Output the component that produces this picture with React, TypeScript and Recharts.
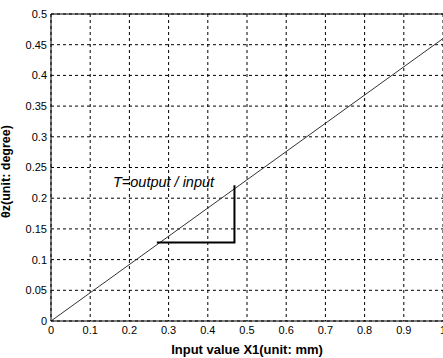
import React from "react";
import {
  LineChart, Line, XAxis, YAxis, CartesianGrid, ReferenceLine, ReferenceDot,
} from "recharts";

// input value X1 (mm) vs output angle θz (degree)
const inputX = [0, 1];
const outputTheta = [0, 0.46];

// ratio triangle drawn under the line
const triangleX = [0.27, 0.468, 0.468];
const triangleY = [0.128, 0.128, 0.221];

const xTicks = [0, 0.1, 0.2, 0.3, 0.4, 0.5, 0.6, 0.7, 0.8, 0.9, 1];
const yTicks = [0, 0.05, 0.1, 0.15, 0.2, 0.25, 0.3, 0.35, 0.4, 0.45, 0.5];

const lineData = inputX.map((x, i) => ({ x, y: outputTheta[i] }));
const triangleData = triangleX.map((x, i) => ({ x, y: triangleY[i] }));

const FONT = "'Liberation Sans', Arial, sans-serif";
const tickStyle = { fontSize: 11, fill: "#000", fontFamily: FONT };

export default function App() {
  return (
    <div style={{ position: "fixed", left: 0, top: 0, width: 443, height: 358, overflow: "hidden", background: "#fff" }}>
      <LineChart width={460} height={358} margin={{ top: 14, right: 17, left: 0, bottom: 0 }}>
        <CartesianGrid stroke="#000" strokeDasharray="3 3" strokeWidth={1} />
        <XAxis
          dataKey="x"
          type="number"
          domain={[0, 1]}
          ticks={xTicks}
          height={37}
          stroke="#000"
          tickLine={false}
          tickSize={3}
          tickMargin={2}
          tick={tickStyle}
          interval={0}
          label={{
            value: "Input value X1(unit: mm)",
            position: "insideBottom",
            offset: 4,
            style: { fontSize: 13, fontWeight: "bold", fill: "#000", fontFamily: FONT },
          }}
        />
        <YAxis
          type="number"
          domain={[0, 0.5]}
          ticks={yTicks}
          width={51}
          stroke="#000"
          tickLine={false}
          tickSize={3}
          tickMargin={1}
          tick={tickStyle}
          interval={0}
          label={{
            value: "θz(unit: degree)",
            angle: -90,
            position: "insideLeft",
            offset: 6,
            dy: 4,
            style: { fontSize: 12.5, fontWeight: "bold", fill: "#000", fontFamily: FONT, textAnchor: "middle" },
          }}
        />
        <ReferenceLine y={0.5} stroke="#000" strokeWidth={1} />
        <Line
          data={lineData}
          dataKey="y"
          stroke="#333"
          strokeWidth={1}
          dot={false}
          isAnimationActive={false}
        />
        <Line
          data={triangleData}
          dataKey="y"
          stroke="#000"
          strokeWidth={2}
          dot={false}
          isAnimationActive={false}
        />
        <ReferenceDot
          x={0.158}
          y={0.224}
          r={0}
          shape={(p: any) => (
            <text x={p.cx} y={p.cy} dy={4} fontSize={14.5} fontStyle="italic" fontFamily={FONT} fill="#000">
              T=output / input
            </text>
          )}
        />
      </LineChart>
    </div>
  );
}
